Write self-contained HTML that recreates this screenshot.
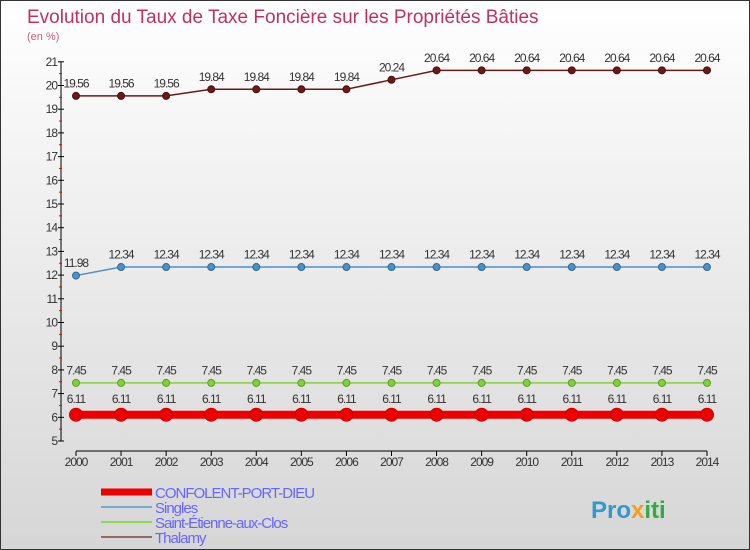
<!DOCTYPE html>
<html><head><meta charset="utf-8"><style>
body{margin:0}
#c{width:750px;height:550px;position:relative;background:linear-gradient(#ffffff,#d6d6d6);box-sizing:border-box;border:1px solid #333;overflow:hidden;font-family:"Liberation Sans",sans-serif}
</style></head><body>
<div id="c">
<svg id="s" width="750" height="550" style="position:absolute;left:0;top:0">
<text x="26" y="22" font-size="19" fill="#c03060">Evolution du Taux de Taxe Foncière sur les Propriétés Bâties</text>
<text x="26" y="39" font-size="11" fill="#c06080">(en %)</text>
<g id="axes"></g><g id="series"></g>
<text x="590" y="517" font-size="24" font-weight="bold" fill="#3399cc">Pro<tspan fill="#f0a020">x</tspan><tspan fill="#33aa44">iti</tspan></text>
</svg>
</div>
<script>
const years=[2000,2001,2002,2003,2004,2005,2006,2007,2008,2009,2010,2011,2012,2013,2014];
const yTicks=[5,6,7,8,9,10,11,12,13,14,15,16,17,18,19,20,21];
const confolent=[6.11,6.11,6.11,6.11,6.11,6.11,6.11,6.11,6.11,6.11,6.11,6.11,6.11,6.11,6.11];
const singles=[11.98,12.34,12.34,12.34,12.34,12.34,12.34,12.34,12.34,12.34,12.34,12.34,12.34,12.34,12.34];
const stEtienne=[7.45,7.45,7.45,7.45,7.45,7.45,7.45,7.45,7.45,7.45,7.45,7.45,7.45,7.45,7.45];
const thalamy=[19.56,19.56,19.56,19.84,19.84,19.84,19.84,20.24,20.64,20.64,20.64,20.64,20.64,20.64,20.64];
const NS="http://www.w3.org/2000/svg";
const X=i=>75+i*(631/14);
const Y=v=>440-(v-5)*23.7;
function mk(t,a,p){const e=document.createElementNS(NS,t);for(const k in a)e.setAttribute(k,a[k]);p.appendChild(e);return e;}
const ax=document.getElementById('axes');
let l=mk('line',{x1:60,y1:Y(21),x2:60,y2:Y(5),stroke:'#000'},ax);


l=mk('line',{x1:X(0),y1:450,x2:X(14),y2:450,stroke:'#000'},ax);


yTicks.forEach(v=>{
 mk('line',{x1:57,y1:Y(v),x2:63,y2:Y(v),stroke:'#000'},ax);
 if(v<21) mk('line',{x1:58,y1:Y(v+0.5),x2:61,y2:Y(v+0.5),stroke:'#e00'},ax);
 const t=mk('text',{x:56,y:Y(v)+4,'font-size':12,'text-anchor':'end',fill:'#333','letter-spacing':'-1'},ax);
 t.textContent=v;
 
 
});
years.forEach((yr,i)=>{
 mk('line',{x1:X(i),y1:450,x2:X(i),y2:455,stroke:'#000'},ax);
 const t=mk('text',{x:X(i),y:465,'font-size':12,'text-anchor':'middle',fill:'#333','letter-spacing':'-1'},ax);
 t.textContent=yr;
 
 
});
const sg=document.getElementById('series');
function series(name,data,color,w,r,lblColor,dark){
 const g=mk('g',{},sg);
 
 
 mk('polyline',{points:data.map((v,i)=>X(i)+','+Y(v)).join(' '),fill:'none',stroke:color,'stroke-width':w},g);
 data.forEach((v,i)=>{
  const c=mk('circle',{cx:X(i),cy:Y(v),r:r,fill:color,stroke:dark,'stroke-width':1},g);
  
  
  const t=mk('text',{x:X(i),y:Y(v)-(r+5),'font-size':12,'text-anchor':'middle',fill:'#333','letter-spacing':'-1'},g);
  t.textContent=v;
  
  
 });
}
series('thalamy',thalamy,'#6b1a1a',1.5,3.5,'#333','#4a0f0f');
series('singles',singles,'#4d90c8',1.5,3.5,'#333','#2a6a9a');
series('saint-etienne',stEtienne,'#80d040',1.5,3.5,'#333','#5aa020');
series('confolent',confolent,'#ee0000',8,6.5,'#333','#c00');
const leg=[['CONFOLENT-PORT-DIEU','#ee0000',7],['Singles','#77aacc',2],['Saint-Étienne-aux-Clos','#88dd55',2],['Thalamy','#996666',2]];
leg.forEach((e,i)=>{
 const y=491+i*15;
 const g=mk('g',{},document.getElementById('s'));
 
 
 mk('line',{x1:100,y1:y,x2:151,y2:y,stroke:e[1],'stroke-width':e[2]},g);
 const t=mk('text',{x:154,y:y+6,'font-size':15,fill:'#6666ff','letter-spacing':'-1'},g);
 t.textContent=e[0];
});
</script>
</body></html>
